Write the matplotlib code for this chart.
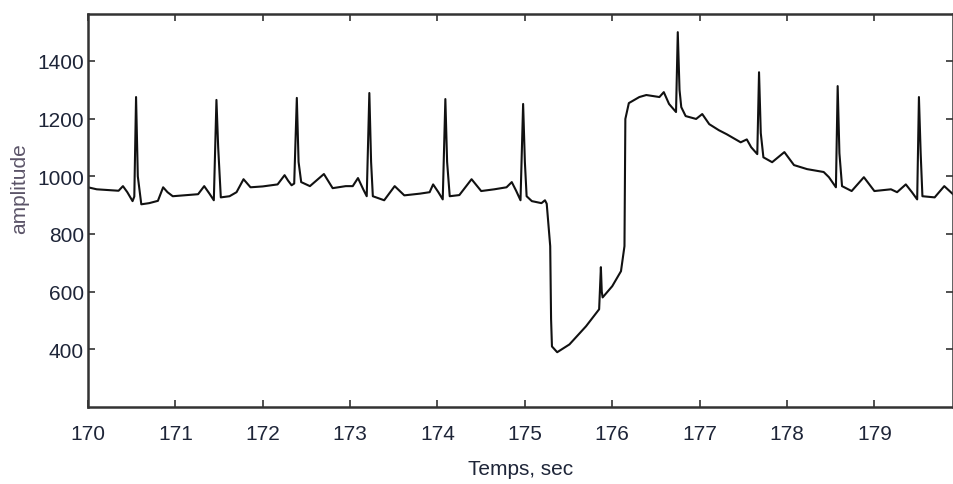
"""ECG amplitude trace, 170-180 s."""
import matplotlib
matplotlib.use('Agg')
import matplotlib.pyplot as plt

# time (s) and amplitude
time_s = [
    170.00, 170.10, 170.25, 170.35, 170.40, 170.45, 170.51, 170.53, 170.55, 170.57,
    170.61, 170.70, 170.80, 170.86, 170.91, 170.97, 171.10, 171.26, 171.33, 171.39,
    171.44, 171.47, 171.49, 171.52, 171.62, 171.70, 171.78, 171.86, 172.00, 172.17,
    172.25, 172.29, 172.33, 172.36, 172.39, 172.41, 172.44, 172.54, 172.70, 172.80,
    172.95, 173.03, 173.09, 173.15, 173.19, 173.22, 173.24, 173.26, 173.39, 173.51,
    173.62, 173.80, 173.91, 173.95, 174.01, 174.06, 174.09, 174.11, 174.14, 174.25,
    174.39, 174.50, 174.65, 174.79, 174.85, 174.90, 174.95, 174.98, 175.00, 175.02,
    175.08, 175.19, 175.23, 175.25, 175.29, 175.30, 175.31, 175.37, 175.51, 175.70,
    175.85, 175.87, 175.88, 175.89, 176.00, 176.10, 176.14, 176.15, 176.19, 176.31,
    176.39, 176.54, 176.59, 176.65, 176.73, 176.75, 176.77, 176.79, 176.84, 176.96,
    177.03, 177.11, 177.22, 177.31, 177.47, 177.54, 177.59, 177.66, 177.68, 177.70,
    177.73, 177.83, 177.97, 178.08, 178.23, 178.42, 178.48, 178.56, 178.58, 178.60,
    178.63, 178.74, 178.88, 179.00, 179.19, 179.26, 179.36, 179.43, 179.49, 179.51,
    179.53, 179.55, 179.69, 179.80, 179.90,
]
amplitude = [
    962, 955, 952, 950, 966, 945, 914, 930, 1275, 1000,
    903, 907, 915, 962, 945, 931, 934, 938, 966, 940,
    917, 1265, 1100, 927, 931, 945, 990, 962, 965, 972,
    1004, 985, 969, 975, 1272, 1050, 980, 966, 1008, 959,
    966, 966, 994, 955, 931, 1289, 1050, 931, 917, 966,
    934, 940, 945, 972, 945, 920, 1268, 1050, 931, 935,
    990, 949, 955, 962, 980, 950, 917, 1251, 1050, 931,
    914, 907, 917, 905, 758, 504, 410, 390, 417, 480,
    539, 685, 600, 580, 619, 671, 758, 1199, 1254, 1275,
    1282, 1275, 1292, 1251, 1223, 1500, 1300, 1240, 1209, 1199,
    1216, 1181, 1160, 1146, 1118, 1128, 1101, 1077, 1361, 1150,
    1066, 1049, 1084, 1039, 1025, 1015, 997, 962, 1313, 1080,
    966, 949, 997, 949, 955, 945, 972, 945, 920, 1275,
    1080, 931, 927, 966, 938,
]
x_ticks = [170, 171, 172, 173, 174, 175, 176, 177, 178, 179]
y_ticks = [400, 600, 800, 1000, 1200, 1400]

plt.rcParams['font.family'] = ['Liberation Sans', 'DejaVu Sans']

fig = plt.figure(figsize=(9.54, 4.85), dpi=100)
ax = fig.add_axes([88 / 954, 77 / 485, 865 / 954, 393 / 485])
ax.plot(time_s, amplitude, color='#111111', linewidth=1.5)

ax.set_xlim(170, 179.9)
ax.set_ylim(200, 1563)
ax.set_xticks(x_ticks)
ax.set_yticks(y_ticks)
ax.tick_params(direction='in', length=5, width=1.2, top=True, right=True,
               labelsize=15, labelcolor='#1e2538', color='#333333')
ax.tick_params(axis='x', pad=12)
ax.tick_params(axis='y', pad=3)
for s in ax.spines.values():
    s.set_linewidth(1.8)
    s.set_color('#333333')

ax.set_xlabel('Temps, sec', fontsize=15, color='#1e2538', labelpad=12)
ax.set_ylabel('amplitude', fontsize=15, color='#5b5468')
# the label sits a little above the axes centre in the original
ax.yaxis.set_label_coords(-0.068, 0.557)

plt.savefig('out.png', dpi=100)
